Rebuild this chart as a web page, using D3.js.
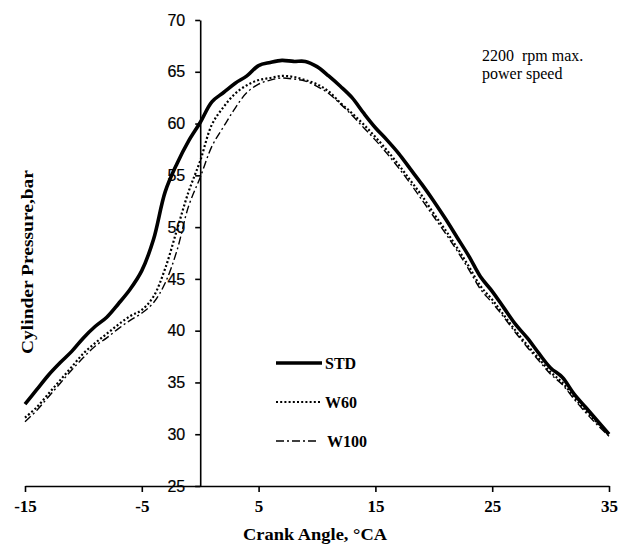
<!DOCTYPE html>
<html>
<head>
<meta charset="utf-8">
<script src="https://cdn.jsdelivr.net/npm/d3@7"></script>
<style>
  html, body { margin: 0; padding: 0; background: #fff; }
  svg { display: block; }
</style>
</head>
<body>
<svg id="chart" width="629" height="547"></svg>
<script>
// Crank angle (°CA)
const crankAngle = [-15,-14,-13,-12,-11,-10,-9,-8,-7,-6,-5,-4,-3,-2,-1,0,1,2,3,4,5,6,7,8,9,10,11,12,13,14,15,16,17,18,19,20,21,22,23,24,25,26,27,28,29,30,31,32,33,34,35];
// Cylinder pressure (bar)
const stdValues  = [32.9,34.3,35.7,36.9,38.0,39.3,40.4,41.3,42.6,44.0,45.8,48.8,53.4,56.1,58.3,60.1,62.1,63.0,63.9,64.6,65.6,65.9,66.1,66.0,66.0,65.5,64.6,63.6,62.5,61.0,59.6,58.4,57.1,55.6,54.1,52.5,50.8,49.0,47.2,45.2,43.8,42.2,40.6,39.3,37.8,36.4,35.5,33.9,32.6,31.3,30.0];
const w60Values  = [31.6,32.6,33.9,35.2,36.5,37.8,38.8,39.7,40.6,41.4,42.0,43.3,46.0,49.7,53.4,56.4,59.9,61.6,62.9,63.7,64.2,64.4,64.6,64.5,64.2,63.8,63.1,62.0,61.0,59.9,58.7,57.4,56.0,54.5,53.0,51.3,49.7,48.0,46.2,44.3,43.0,41.5,40.0,38.6,37.3,36.0,35.0,33.6,32.3,31.1,29.9];
const w100Values = [31.2,32.3,33.6,34.9,36.2,37.4,38.5,39.3,40.2,41.0,41.7,42.7,44.6,47.7,52.0,54.8,57.8,59.7,61.5,63.0,63.8,64.2,64.4,64.3,64.1,63.6,62.9,61.9,60.8,59.6,58.4,57.1,55.7,54.2,52.6,51.0,49.4,47.7,45.9,44.0,42.7,41.3,39.8,38.4,37.1,35.8,34.8,33.4,32.1,30.9,29.8];
const seriesNames = ["STD", "W60", "W100"];
const xTicks = [-15, -5, 5, 15, 25, 35];
const yTicks = [25, 30, 35, 40, 45, 50, 55, 60, 65, 70];
const noteLines = ["2200  rpm max.", "power speed"];

const svg = d3.select("#chart");
const x = d3.scaleLinear().domain([-15, 35]).range([25, 609]);
const y = d3.scaleLinear().domain([25, 70]).range([486, 20]);

const styles = {
  STD:  { width: 3.6, dash: null },
  W60:  { width: 2.2, dash: "2,2.2" },
  W100: { width: 1.4, dash: "8,3,2,3" }
};
const seriesData = [stdValues, w60Values, w100Values];

// Axes
const xAxis = d3.axisBottom(x).tickValues(xTicks).tickSize(6).tickSizeOuter(0).tickFormat(d => String(d));
const gx = svg.append("g").attr("transform", `translate(0,${y(25)})`).call(xAxis);
gx.select(".domain").attr("stroke", "#000").attr("stroke-width", 1.6);
gx.selectAll(".tick line").attr("stroke", "#000").attr("stroke-width", 1.6);
gx.selectAll(".tick text")
  .attr("font-family", "'Liberation Serif', 'Times New Roman', serif")
  .attr("font-weight", "bold").attr("font-size", 17).attr("fill", "#000")
  .attr("y", 14).attr("dy", "0.71em");

const yAxis = d3.axisLeft(y).tickValues(yTicks).tickSize(5).tickSizeOuter(0).tickFormat(d => String(d));
const gy = svg.append("g").attr("transform", `translate(${x(0)},0)`).call(yAxis);
gy.select(".domain").attr("stroke", "#000").attr("stroke-width", 1.6);
gy.selectAll(".tick line").attr("stroke", "#000").attr("stroke-width", 1.6);
gy.selectAll(".tick text")
  .attr("font-family", "'Liberation Sans', Arial, sans-serif")
  .attr("font-size", 16).attr("fill", "#000")
  .attr("stroke", "#000").attr("stroke-width", 0.2)
  .attr("x", -15);

// Lines
const line = d3.line()
  .x((d, i) => x(crankAngle[i]))
  .y(d => y(d))
  .curve(d3.curveCatmullRom.alpha(0.5));

seriesNames.forEach((name, k) => {
  svg.append("path")
    .datum(seriesData[k])
    .attr("fill", "none")
    .attr("stroke", "#000")
    .attr("stroke-width", styles[name].width)
    .attr("stroke-dasharray", styles[name].dash)
    .attr("stroke-linejoin", "round")
    .attr("d", line);
});

// Legend
const legendY = [363, 402, 441];
seriesNames.forEach((name, k) => {
  const g = svg.append("g");
  g.append("line")
    .attr("x1", 276).attr("x2", name === "W100" ? 316 : 322)
    .attr("y1", legendY[k]).attr("y2", legendY[k])
    .attr("stroke", "#000")
    .attr("stroke-width", styles[name].width)
    .attr("stroke-dasharray", styles[name].dash);
  g.append("text")
    .attr("x", name === "W100" ? 327 : 325).attr("y", legendY[k]).attr("dy", "0.35em")
    .attr("font-family", "'Liberation Serif', 'Times New Roman', serif")
    .attr("font-weight", "bold").attr("font-size", 16)
    .text(name);
});

// Annotation
noteLines.forEach((t, i) => {
  svg.append("text")
    .attr("x", 482).attr("y", 61 + i * 18)
    .attr("font-family", "'Liberation Serif', 'Times New Roman', serif")
    .attr("font-size", 16).attr("fill", "#000")
    .style("white-space", "pre")
    .text(t);
});

// Axis titles
svg.append("text")
  .attr("x", 315).attr("y", 540)
  .attr("text-anchor", "middle")
  .attr("font-family", "'Liberation Serif', 'Times New Roman', serif")
  .attr("font-weight", "bold").attr("font-size", 17)
  .attr("textLength", 144).attr("lengthAdjust", "spacingAndGlyphs")
  .text("Crank Angle, °CA");

svg.append("text")
  .attr("transform", "translate(33,262) rotate(-90)")
  .attr("text-anchor", "middle")
  .attr("font-family", "'Liberation Serif', 'Times New Roman', serif")
  .attr("font-weight", "bold").attr("font-size", 17)
  .attr("textLength", 184).attr("lengthAdjust", "spacingAndGlyphs")
  .text("Cylinder Pressure,bar");
</script>
</body>
</html>
